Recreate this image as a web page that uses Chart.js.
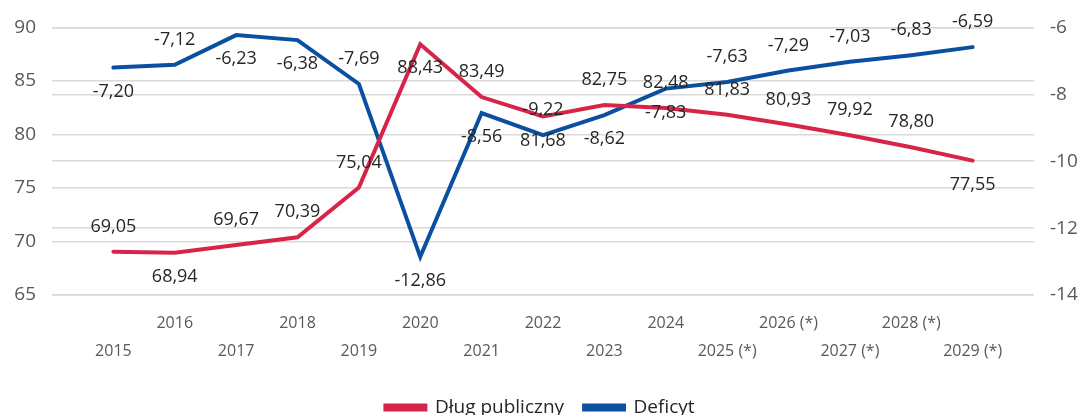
<!DOCTYPE html>
<html>
<head>
<meta charset="utf-8">
<script src="https://cdn.jsdelivr.net/npm/chart.js@4/dist/chart.umd.min.js"></script>
<style>
  html, body { margin: 0; padding: 0; background: #fff; }
  #wrap { width: 1086px; height: 415px; }
</style>
</head>
<body>
<div id="wrap"><canvas id="myChart"></canvas></div>
<script>
// dane
var lata = [2015, 2016, 2017, 2018, 2019, 2020, 2021, 2022, 2023, 2024, 2025, 2026, 2027, 2028, 2029];
var etykietyLat = ["2015", "2016", "2017", "2018", "2019", "2020", "2021", "2022", "2023", "2024",
  "2025 (*)", "2026 (*)", "2027 (*)", "2028 (*)", "2029 (*)"];
var dlugPubliczny = [69.05, 68.94, 69.67, 70.39, 75.04, 88.43, 83.49, 81.68, 82.75, 82.48, 81.83, 80.93, 79.92, 78.80, 77.55];
var deficyt = [-7.20, -7.12, -6.23, -6.38, -7.69, -12.86, -8.56, -9.22, -8.62, -7.83, -7.63, -7.29, -7.03, -6.83, -6.59];

// gdzie rysowac etykiety (g = nad punktem, d = pod punktem)
var pozDlug = ["g", "d", "g", "g", "g", "d", "g", "d", "g", "g", "g", "g", "g", "g", "d"];
var pozDeficyt = ["d", "g", "d", "d", "g", "d", "d", "g", "d", "d", "g", "g", "g", "g", "g"];

var canva = document.getElementById("myChart").getContext("2d");

var etykietyPunktow = {
  id: "etykietyPunktow",
  afterDatasetsDraw: (chart) => {
    var ctx = chart.ctx;
    ctx.save();
    ctx.font = "18px 'Open Sans'";
    ctx.fillStyle = "#262626";
    ctx.textAlign = "center";
    ctx.textBaseline = "middle";
    chart.data.datasets.forEach((ds, i) => {
      var meta = chart.getDatasetMeta(i);
      meta.data.forEach((pt, j) => {
        var v = ds.data[j].y;
        var dy = ds.poz[j] == "g" ? -25 : 24;
        ctx.fillText(v.toFixed(2).replace(".", ","), pt.x, pt.y + dy);
      });
    });
    ctx.restore();
  },
};

var chart = new Chart(canva, {
  type: "line",
  data: {
    datasets: [
      {
        label: "Dług publiczny",
        data: lata.map((r, i) => ({ x: r, y: dlugPubliczny[i] })),
        poz: pozDlug,
        yAxisID: "y",
        borderColor: "#D7254A",
        backgroundColor: "#D7254A",
        borderWidth: 4,
        pointRadius: 0,
        tension: 0,
        borderCapStyle: "round",
      },
      {
        label: "Deficyt",
        data: lata.map((r, i) => ({ x: r, y: deficyt[i] })),
        poz: pozDeficyt,
        yAxisID: "y1",
        borderColor: "#0B4FA0",
        backgroundColor: "#0B4FA0",
        borderWidth: 4,
        pointRadius: 0,
        tension: 0,
        borderCapStyle: "round",
      },
    ],
  },
  options: {
    responsive: true,
    maintainAspectRatio: false,
    animation: false,
    layout: { padding: { top: 16, right: 6, left: 0, bottom: -12 } },
    scales: {
      x: {
        type: "linear",
        min: 2014,
        max: 2030,
        grid: { display: false },
        border: { display: false },
        afterFit: (scale) => { scale.height = 83; },
        ticks: {
          stepSize: 1,
          autoSkip: false,
          maxRotation: 0,
          padding: 6,
          color: "#595959",
          font: { family: "Open Sans", size: 16, lineHeight: 1.75 },
          callback: (val) => {
            var i = lata.indexOf(val);
            if (i < 0) return "";
            return i % 2 == 0 ? ["", etykietyLat[i]] : [etykietyLat[i]];
          },
        },
      },
      y: {
        position: "left",
        min: 65,
        max: 90,
        afterFit: (scale) => { scale.width = 52; },
        border: { display: false },
        grid: { color: "#d9d9d9", lineWidth: 1.5, drawTicks: false },
        ticks: {
          stepSize: 5,
          padding: 16,
          color: "#595959",
          font: { family: "Open Sans", size: 19 },
        },
      },
      y1: {
        position: "right",
        min: -14,
        max: -6,
        afterFit: (scale) => { scale.width = 46; },
        border: { display: false },
        grid: { color: "#d9d9d9", lineWidth: 1.5, drawTicks: false },
        ticks: {
          stepSize: 2,
          padding: 16,
          color: "#595959",
          font: { family: "Open Sans", size: 19 },
        },
      },
    },
    plugins: {
      legend: {
        position: "bottom",
        labels: {
          boxWidth: 40,
          boxHeight: 4,
          padding: 20,
          color: "#262626",
          font: { family: "Open Sans", size: 19 },
        },
      },
      tooltip: { enabled: false },
    },
  },
  plugins: [etykietyPunktow],
});
</script>
</body>
</html>
